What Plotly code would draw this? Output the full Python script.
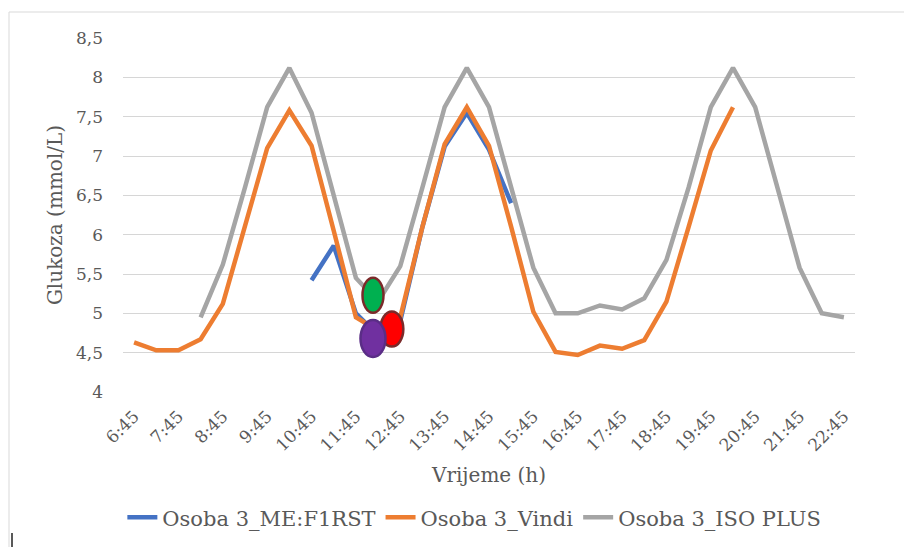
import plotly.graph_objects as go

times = ["6:45", "7:15", "7:45", "8:15", "8:45", "9:15", "9:45", "10:15", "10:45", "11:15",
         "11:45", "12:15", "12:45", "13:15", "13:45", "14:15", "14:45", "15:15", "15:45",
         "16:15", "16:45", "17:15", "17:45", "18:15", "18:45", "19:15", "19:45", "20:15",
         "20:45", "21:15", "21:45", "22:15", "22:45"]
x_tick_labels = ["6:45", "7:45", "8:45", "9:45", "10:45", "11:45", "12:45", "13:45", "14:45",
                 "15:45", "16:45", "17:45", "18:45", "19:45", "20:45", "21:45", "22:45"]

me_first = [None, None, None, None, None, None, None, None, 5.42, 5.86,
            5.0, 4.72, 4.9, 6.1, 7.12, 7.55, 7.08, 6.4, None,
            None, None, None, None, None, None, None, None, None,
            None, None, None, None, None]
vindi = [4.63, 4.53, 4.53, 4.67, 5.12, 6.1, 7.1, 7.58, 7.13, 6.05,
         4.95, 4.78, 4.95, 6.1, 7.15, 7.62, 7.13, 6.1, 5.02,
         4.51, 4.47, 4.59, 4.55, 4.66, 5.15, 6.1, 7.07, 7.62,
         None, None, None, None, None]
iso_plus = [None, None, None, 4.95, 5.62, 6.6, 7.62, 8.12, 7.55, 6.5,
            5.45, 5.15, 5.6, 6.6, 7.62, 8.12, 7.62, 6.6, 5.58,
            5.0, 5.0, 5.1, 5.05, 5.19, 5.68, 6.6, 7.62, 8.12,
            7.62, 6.6, 5.58, 5.0, 4.95]

y_tick_vals = [4, 4.5, 5, 5.5, 6, 6.5, 7, 7.5, 8, 8.5]
y_tick_text = ["4", "4,5", "5", "5,5", "6", "6,5", "7", "7,5", "8", "8,5"]

# highlighted measurements (category position, glucose value)
mark_x = [10.77, 11.62, 10.77]
mark_y = [5.23, 4.80, 4.68]
mark_fill = ["#00b050", "#ff0000", "#7030a0"]
mark_line = ["#7b2a2a", "#7b2a2a", "#5a2d86"]
mark_w = [21, 23, 25]
mark_h = [35, 35, 37]

FONT = "DejaVu Serif"
TXT = "#595959"

# the page body has an 8px offset; figure is sized so the plot area lands at x 123-855, y 38-392
W, H = 904, 539
L, T, R, B = 115, 30, 57, 155
PW, PH = W - L - R, H - T - B

fig = go.Figure()
fig.add_trace(go.Scatter(x=times, y=me_first, mode="lines", name="Osoba 3_ME:F1RST",
                         line=dict(color="#4472c4", width=4.5)))
fig.add_trace(go.Scatter(x=times, y=vindi, mode="lines", name="Osoba 3_Vindi",
                         line=dict(color="#ed7d31", width=4.5)))
fig.add_trace(go.Scatter(x=times, y=iso_plus, mode="lines", name="Osoba 3_ISO PLUS",
                         line=dict(color="#a5a5a5", width=4.5)))

shapes = []
for xv, yv, fc, lc, w, h in zip(mark_x, mark_y, mark_fill, mark_line, mark_w, mark_h):
    shapes.append(dict(type="circle", xref="x", yref="y", xsizemode="pixel", ysizemode="pixel",
                       xanchor=xv, yanchor=yv, x0=-w / 2, x1=w / 2, y0=-h / 2, y1=h / 2,
                       fillcolor=fc, line=dict(color=lc, width=2.5), layer="above"))

def px(xp):
    return (xp - L) / PW

def py(yp):
    return (PH + T - yp) / PH

shapes.append(dict(type="rect", xref="paper", yref="paper",
                   x0=px(1), x1=px(960), y0=py(600), y1=py(4),
                   line=dict(color="#d9d9d9", width=1), fillcolor="rgba(0,0,0,0)", layer="below"))
shapes.append(dict(type="line", xref="paper", yref="paper",
                   x0=px(4), x1=px(4), y0=py(525), y1=py(539),
                   line=dict(color="#222222", width=1.5)))

fig.update_layout(
    width=W, height=H,
    margin=dict(l=L, r=R, t=T, b=B, autoexpand=False),
    paper_bgcolor="white", plot_bgcolor="white",
    font=dict(family=FONT, color=TXT, size=17),
    showlegend=True,
    legend=dict(orientation="h", x=0.48, xanchor="center", y=-0.355, yanchor="middle",
                font=dict(family=FONT, size=21, color=TXT), itemwidth=30,
                traceorder="normal", bgcolor="rgba(0,0,0,0)"),
    shapes=shapes,
)
fig.update_xaxes(type="category", categoryorder="array", categoryarray=times,
                 range=[-0.5, len(times) - 0.5], automargin=False,
                 tickmode="array", tickvals=x_tick_labels, ticktext=x_tick_labels,
                 tickangle=-45, tickfont=dict(family=FONT, size=17, color=TXT),
                 showgrid=False, zeroline=False, showline=False, ticks="",
                 ticklabelstandoff=10,
                 title=dict(text="Vrijeme (h)", font=dict(family=FONT, size=20, color=TXT), standoff=14))
fig.update_yaxes(range=[4, 8.5], tickmode="array", tickvals=y_tick_vals, ticktext=y_tick_text,
                 automargin=False,
                 showgrid=True, gridcolor="#d6d6d6", gridwidth=1, zeroline=False, showline=False,
                 ticks="", ticklabelstandoff=19,
                 tickfont=dict(family=FONT, size=17, color=TXT),
                 title=dict(text="Glukoza (mmol/L)", font=dict(family=FONT, size=20, color=TXT), standoff=7))

fig.write_html("out.html")
